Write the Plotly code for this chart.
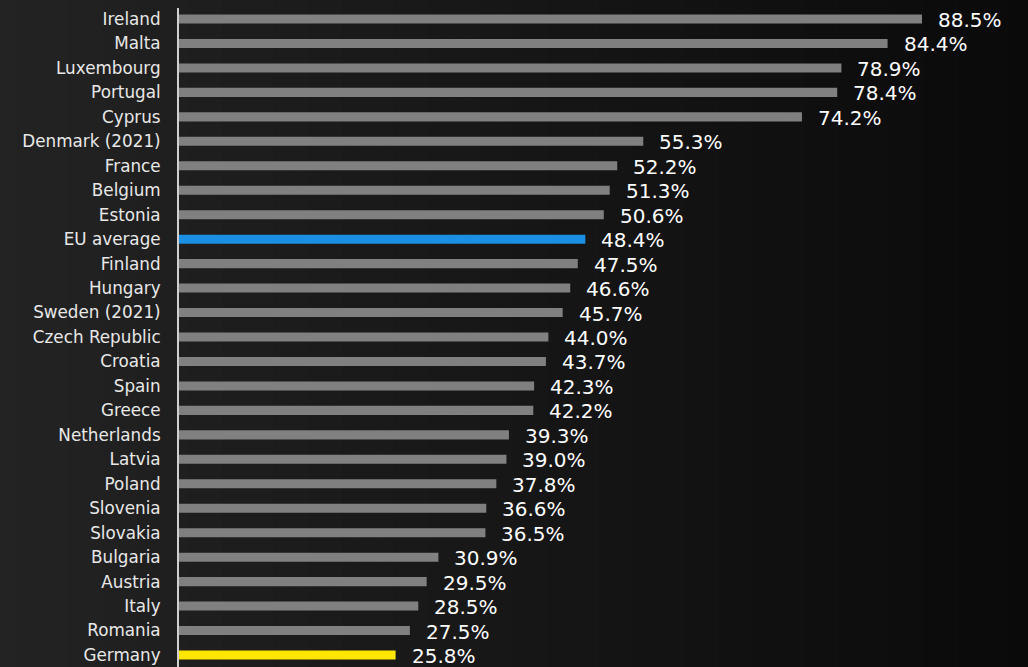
import plotly.graph_objects as go

countries = ["Ireland", "Malta", "Luxembourg", "Portugal", "Cyprus", "Denmark (2021)",
             "France", "Belgium", "Estonia", "EU average", "Finland", "Hungary",
             "Sweden (2021)", "Czech Republic", "Croatia", "Spain", "Greece",
             "Netherlands", "Latvia", "Poland", "Slovenia", "Slovakia", "Bulgaria",
             "Austria", "Italy", "Romania", "Germany"]
values = [88.5, 84.4, 78.9, 78.4, 74.2, 55.3, 52.2, 51.3, 50.6, 48.4, 47.5, 46.6,
          45.7, 44.0, 43.7, 42.3, 42.2, 39.3, 39.0, 37.8, 36.6, 36.5, 30.9,
          29.5, 28.5, 27.5, 25.8]
labels = [f"{v:.1f}%" for v in values]

GREY, BLUE, YELLOW = "#808080", "#1a8fe3", "#ffe600"
colors = [BLUE if c == "EU average" else YELLOW if c == "Germany" else GREY for c in countries]

FONT = "DejaVu Sans, sans-serif"
W, H = 1028, 667
ML, MR, MT, MB = 179, 0, 8, 0

fig = go.Figure()
fig.add_trace(go.Bar(
    x=values, y=countries, orientation="h",
    marker=dict(color=colors, line=dict(width=0)),
    width=0.37, hoverinfo="skip",
))

for c, v, t in zip(countries, values, labels):
    fig.add_annotation(x=v, y=c, text=t, xref="x", yref="y",
                       xanchor="left", yanchor="middle", xshift=14, yshift=-1,
                       showarrow=False,
                       font=dict(family=FONT, size=20, color="#ffffff"))

# background gradient (styling)
n = 60
pw = W - ML - MR
for i in range(n):
    f0 = i / n
    f1 = (i + 1) / n
    t = (i + 0.5) / n
    g = int(round(35 - (35 - 10) * t))
    x0 = (f0 * W - ML) / pw
    x1 = (f1 * W - ML) / pw
    fig.add_shape(type="rect", xref="paper", yref="paper",
                  x0=x0, x1=x1 + 0.002, y0=-0.05, y1=1.05,
                  fillcolor=f"rgb({g},{g},{g})", line=dict(width=0), layer="below")

xmax = pw / (743 / 88.5)
fig.update_layout(
    width=W, height=H,
    margin=dict(l=ML, r=MR, t=MT, b=MB),
    paper_bgcolor="#161616", plot_bgcolor="rgba(0,0,0,0)",
    showlegend=False,
    xaxis=dict(range=[0, xmax], visible=False, showgrid=False, zeroline=False),
    yaxis=dict(categoryorder="array", categoryarray=countries,
               range=[26.49, -0.45], showgrid=False, zeroline=False,
               showline=True, linecolor="#d0d0d0", linewidth=2,
               ticks="", ticklabelstandoff=13,
               tickfont=dict(family=FONT, size=16.8, color="#e8e8e8")),
)

fig.write_html("out.html", config={"displayModeBar": False},
               post_script="document.body.style.margin='0';document.body.style.background='#161616';document.body.style.overflow='hidden';")
